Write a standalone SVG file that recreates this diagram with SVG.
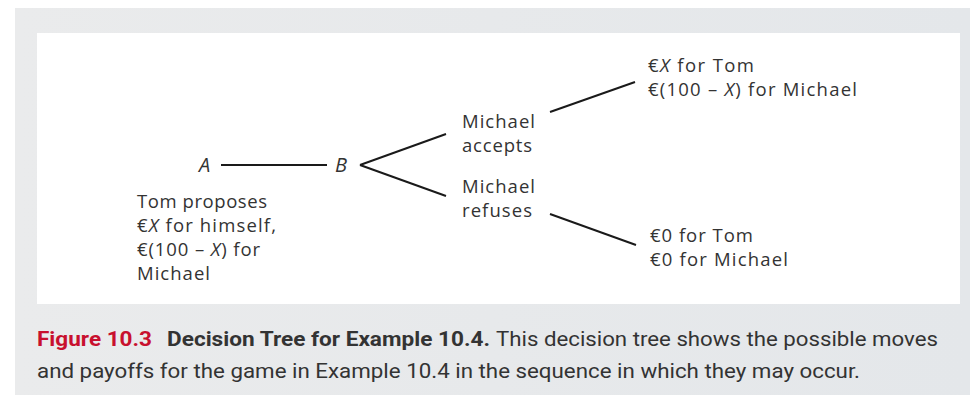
<svg xmlns="http://www.w3.org/2000/svg" width="970" height="397" viewBox="0 0 970 397">
  <style>
    .t { font-family: "Open Sans", "Liberation Sans", sans-serif; font-size: 18.5px; fill: #333; }
    .lbl { font-family: "Open Sans", "Liberation Sans", sans-serif; font-size: 20px; font-style: italic; fill: #333; }
    .it { font-style: italic; }
    .edge { stroke: #1a1a1a; stroke-width: 2; fill: none; }
    .cap { font-family: "Roboto", "Liberation Sans", sans-serif; font-size: 20px; fill: #333; }
    .fig { fill: #c8102e; font-weight: bold; }
    .bold { font-weight: bold; }
  </style>
  <defs>
    <linearGradient id="panel" x1="0" y1="0" x2="1" y2="0">
      <stop offset="0" stop-color="#eaebec"/>
      <stop offset="1" stop-color="#e4e7ea"/>
    </linearGradient>
  </defs>

  <!-- panel and drawing area -->
  <rect x="15" y="8" width="955" height="387" fill="url(#panel)"/>
  <rect x="37" y="33" width="923" height="271" fill="#ffffff"/>

  <!-- connectors -->
  <g id="connectors">
    <line class="edge" x1="221" y1="165" x2="327" y2="165"/>
    <line class="edge" x1="360" y1="165" x2="446" y2="134"/>
    <line class="edge" x1="360" y1="165" x2="446" y2="196"/>
    <line class="edge" x1="550" y1="112" x2="635" y2="82"/>
    <line class="edge" x1="550" y1="214" x2="636" y2="245"/>
  </g>

  <g id="node-a">
    <text class="lbl" x="199" y="172">A</text>
    <text class="t" x="137" y="208" textLength="130">Tom proposes</text>
    <text class="t" x="137" y="232" textLength="139">€<tspan class="it">X</tspan> for himself,</text>
    <text class="t" x="137" y="256" textLength="123">€(100 – <tspan class="it">X</tspan>) for</text>
    <text class="t" x="137" y="280" textLength="73">Michael</text>
  </g>

  <g id="node-b">
    <text class="lbl" x="335" y="172">B</text>
  </g>

  <g id="node-accepts">
    <text class="t" x="462" y="128" textLength="73">Michael</text>
    <text class="t" x="462" y="152" textLength="70">accepts</text>
  </g>

  <g id="node-refuses">
    <text class="t" x="462" y="193" textLength="73">Michael</text>
    <text class="t" x="462" y="217" textLength="70">refuses</text>
  </g>

  <g id="payoff-accept">
    <text class="t" x="648" y="72" textLength="106">€<tspan class="it">X</tspan> for Tom</text>
    <text class="t" x="648" y="96" textLength="209">€(100 – <tspan class="it">X</tspan>) for Michael</text>
  </g>

  <g id="payoff-refuse">
    <text class="t" x="650" y="242" textLength="103">€0 for Tom</text>
    <text class="t" x="650" y="266" textLength="138">€0 for Michael</text>
  </g>

  <!-- caption -->
  <g id="caption">
    <text class="cap fig" x="37" y="346" textLength="115" lengthAdjust="spacingAndGlyphs">Figure 10.3</text>
    <text class="cap bold" x="167" y="346" textLength="323" lengthAdjust="spacingAndGlyphs">Decision Tree for Example 10.4.</text>
    <text class="cap" x="496" y="346" textLength="442" lengthAdjust="spacingAndGlyphs">This decision tree shows the possible moves</text>
    <text class="cap" x="37" y="378" textLength="823" lengthAdjust="spacingAndGlyphs">and payoffs for the game in Example 10.4 in the sequence in which they may occur.</text>
  </g>
</svg>
